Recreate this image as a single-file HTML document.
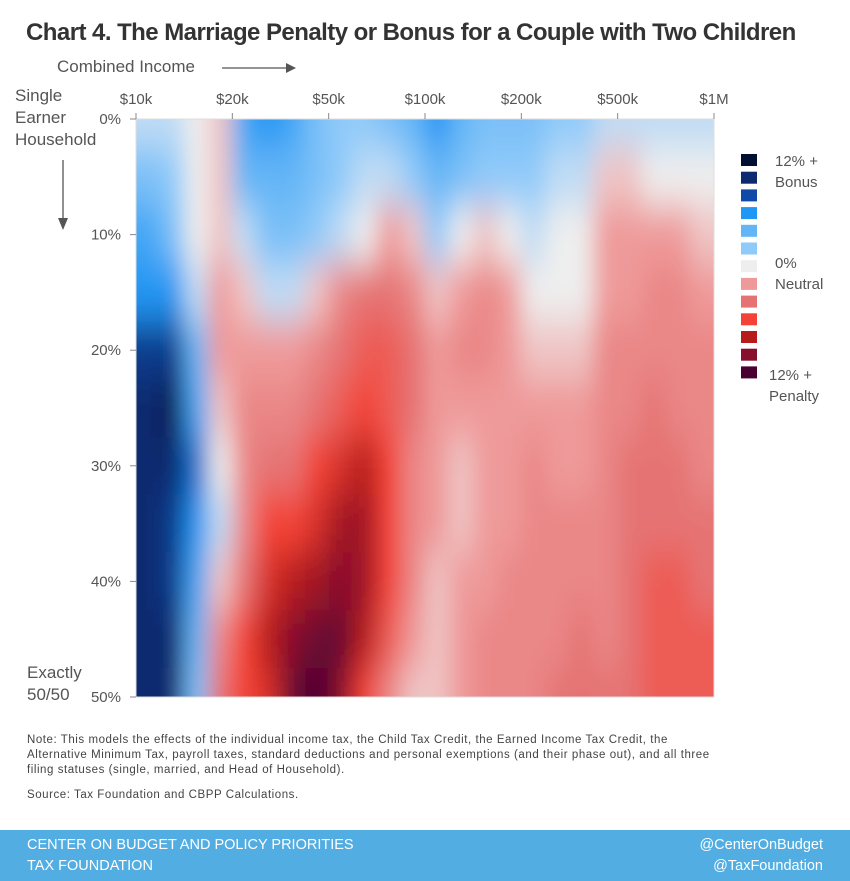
<!DOCTYPE html>
<html><head><meta charset="utf-8"><style>
body{margin:0;width:850px;height:881px;background:#fff;font-family:"Liberation Sans",sans-serif;position:relative;overflow:hidden;color:#555}
.a{position:absolute;white-space:nowrap}
</style></head><body>
<div class="a" style="left:26px;top:19px;font-size:24px;font-weight:bold;color:#333;letter-spacing:-0.55px">Chart 4. The Marriage Penalty or Bonus for a Couple with Two Children</div>
<div class="a" style="left:57px;top:57px;font-size:17px;color:#555">Combined Income</div>
<svg class="a" style="left:220px;top:60px" width="80" height="16"><line x1="2" y1="8" x2="68" y2="8" stroke="#555" stroke-width="1.3"/><path d="M66 3 L76 8 L66 13Z" fill="#555"/></svg>
<div class="a" style="left:15px;top:85px;font-size:17px;line-height:22px;color:#555">Single<br>Earner<br>Household</div>
<svg class="a" style="left:55px;top:158px" width="16" height="76"><line x1="8" y1="2" x2="8" y2="62" stroke="#555" stroke-width="1.3"/><path d="M3 60 L8 72 L13 60Z" fill="#555"/></svg>
<div class="a" style="left:27px;top:662px;font-size:17px;line-height:22px;color:#555">Exactly<br>50/50</div>
<svg id="chart" class="a" style="left:0;top:0" width="850" height="720"></svg>
<div class="a" style="left:27px;top:733px;font-size:11.5px;line-height:15px;color:#444;letter-spacing:0.55px">Note: This models the effects of the individual income tax, the Child Tax Credit, the Earned Income Tax Credit, the<br>Alternative Minimum Tax, payroll taxes, standard deductions and personal exemptions (and their phase out), and all three<br>filing statuses (single, married, and Head of Household).</div>
<div class="a" style="left:27px;top:789px;font-size:11.5px;color:#444;letter-spacing:0.55px">Source: Tax Foundation and CBPP Calculations.</div>
<div class="a" style="left:0;top:830px;width:850px;height:51px;background:#51ade2"></div>
<div class="a" style="left:27px;top:835px;font-size:14.5px;line-height:21px;color:#fff">CENTER ON BUDGET AND POLICY PRIORITIES<br>TAX FOUNDATION</div>
<div class="a" style="right:27px;top:835px;font-size:14.5px;line-height:21px;color:#fff;text-align:right">@CenterOnBudget<br>@TaxFoundation</div>
<script>
const xTickLabels=["$10k","$20k","$50k","$100k","$200k","$500k","$1M"];
const yTickLabels=["0%","10%","20%","30%","40%","50%"];
const rowShares=[0,5,10,15,20,25,30,35,40,45,50];
const legendLabels=[["12% +","Bonus"],["0%","Neutral"],["12% +","Penalty"]];
const legendValues=[-12,-10,-8,-6,-4,-2,0,2,4,6,8,10,12];
const stopColors=["#020f33","#0c2a6f","#0f4aa6","#2196f3","#64b5f6","#90caf9","#eeeeee","#ef9a9a","#e57373","#f44336","#b71c1c","#880e2e","#4a0031"];
// columns: values per row (0%..50%), negative=bonus, positive=penalty
const c0=[-1,-3,-5,-6,-9,-10,-10,-10,-10,-10,-10];
const c1=[-1,-2,-3,-6,-9,-11,-10,-9,-9,-10,-10];
const c2=[0,0,0,-1,-4,-5,-7,-6,-5,-4,-3];
const c3=[1,1,1,2,2,1,0,-1,1,3,4];
const c4=[-5,-4,-1,1,2,3,3,3,4,6,6];
const c5=[-6,-4,-3,-1,2,3,4,6,7,8,7];
const c6=[-5,-4,-3,-1,2,3,4,6,8,10,11];
const c7=[-3,-3,-2,1,3,4,6,7,9,11,12];
const c8=[-2,-2,-1,3,4,5,7,9,10,11,10];
const c9=[-2,-1,0,4,5,6,8,9,9,8,6];
const c10=[-3,-1,2,4,5,5,6,6,6,5,3];
const c11=[-4,-2,1,3,4,4,3,3,3,2,1];
const c12=[-6,-4,-2,1,2,2,2,2,1,1,1];
const c13=[-4,-3,0,2,3,2,1,1,2,2,2];
const c14=[-3,-2,1,3,3,2,2,2,2,3,3];
const c15=[-3,-2,0,2,2,2,2,2,3,3,3];
const c16=[-3,-2,-1,0,1,2,3,3,3,3,3];
const c17=[-2,-1,0,0,1,2,2,3,3,3,4];
const c18=[-2,-1,0,0,1,2,2,3,3,4,4];
const c19=[-1,1,2,2,3,3,3,3,3,3,4];
const c20=[-1,1,2,2,3,3,4,4,4,4,4];
const c21=[-1,0,2,3,3,4,4,4,5,5,5];
const c22=[-1,0,2,3,3,3,4,4,5,5,5];
const c23=[-1,0,1,2,3,3,3,4,4,5,5];
const columns=[c0,c1,c2,c3,c4,c5,c6,c7,c8,c9,c10,c11,c12,c13,c14,c15,c16,c17,c18,c19,c20,c21,c22,c23];

const NS="http://www.w3.org/2000/svg";
const svg=document.getElementById('chart');
const PL=136,PR=714,PT=119,PB=697;
function mk(t,a,p){const e=document.createElementNS(NS,t);for(const k in a)e.setAttribute(k,a[k]);(p||svg).appendChild(e);return e;}
function hex(c){return [1,3,5].map(i=>parseInt(c.substr(i,2),16));}
function color(v){v=Math.max(-12,Math.min(12,v));const t=(v+12)/2;const i=Math.min(11,Math.floor(t));const f=t-i;const a=hex(stopColors[i]),b=hex(stopColors[i+1]);return 'rgb('+a.map((x,k)=>Math.round(x+(b[k]-x)*f)).join(',')+')';}
const colW=(PR-PL)/columns.length;
function xCol(i){return PL+i*colW;}
function yShare(s){return PT+(s/50)*(PB-PT);}
const rowH=(PB-PT)/(rowShares.length-1);
const defs=mk('defs',{});
const cp=mk('clipPath',{id:'clip'},defs);mk('rect',{x:PL,y:PT,width:PR-PL,height:PB-PT},cp);
const fl=mk('filter',{id:'blur',filterUnits:'userSpaceOnUse',x:PL-80,y:PT-80,width:PR-PL+160,height:PB-PT+160},defs);mk('feGaussianBlur',{stdDeviation:'11 20'},fl);
const clipG=mk('g',{'clip-path':'url(#clip)'});
const g=mk('g',{filter:'url(#blur)'},clipG);
columns.forEach((col,i)=>{col.forEach((v,j)=>{
  let x0=xCol(i),x1=xCol(i+1),y0=yShare(rowShares[j])-rowH/2,y1=yShare(rowShares[j])+rowH/2;
  if(i===0)x0-=60; if(i===columns.length-1)x1+=60; if(j===0)y0-=60; if(j===col.length-1)y1+=60;
  const r=mk('rect',{x:x0,y:y0,width:x1-x0+0.6,height:y1-y0+0.6,fill:color(v)},g);
  
  
});});
mk('rect',{x:PL,y:PT,width:PR-PL,height:PB-PT,fill:'none',stroke:'#ddd','stroke-width':1});
xTickLabels.forEach((l,i)=>{const x=PL+i*(PR-PL)/(xTickLabels.length-1);
  mk('line',{x1:x,y1:PT-6,x2:x,y2:PT,stroke:'#888'});
  const t=mk('text',{x:x,y:104,'text-anchor':'middle','font-size':15,fill:'#555','font-family':'Liberation Sans'});t.textContent=l;
  
  });
yTickLabels.forEach((l,i)=>{const y=PT+i*(PB-PT)/(yTickLabels.length-1);
  mk('line',{x1:PL-6,y1:y,x2:PL,y2:y,stroke:'#888'});
  const t=mk('text',{x:PL-15,y:y+5,'text-anchor':'end','font-size':15,fill:'#555','font-family':'Liberation Sans'});t.textContent=l;
  
  });
legendValues.forEach((v,i)=>{const y=154+i*17.7;
  const r=mk('rect',{x:741,y:y,width:16,height:12,fill:color(v)});
  
  });
[[0,775,166],[1,775,268],[2,769,380]].forEach(([k,x,y])=>{legendLabels[k].forEach((s,m)=>{
  const t=mk('text',{x:x,y:y+m*21,'font-size':15,fill:'#555','font-family':'Liberation Sans'});t.textContent=s;
  
  });});
</script>
</body></html>
